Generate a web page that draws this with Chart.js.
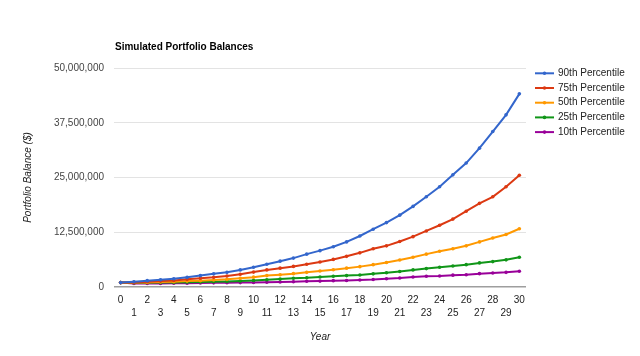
<!DOCTYPE html>
<html>
<head>
<meta charset="utf-8">
<script src="https://cdn.jsdelivr.net/npm/chart.js@4"></script>
<style>
html,body{margin:0;padding:0;background:#fff;}
#wrap{width:640px;height:356px;position:relative;}
</style>
</head>
<body>
<div id="wrap"><canvas id="c" width="640" height="356"></canvas></div>
<script>
const chartTitle = "Simulated Portfolio Balances";
const xTitle = "Year";
const yTitle = "Portfolio Balance ($)";
const years = ["0","1","2","3","4","5","6","7","8","9","10","11","12","13","14","15","16","17","18","19","20","21","22","23","24","25","26","27","28","29","30"];
const seriesNames = ["90th Percentile","75th Percentile","50th Percentile","25th Percentile","10th Percentile"];
const seriesColors = ["#3366cc","#dc3912","#ff9900","#109618","#990099"];
const yTicks = [0, 12500000, 25000000, 37500000, 50000000];
// values in millions of dollars
const p90 = [1.0,1.2,1.45,1.65,1.9,2.2,2.6,3.0,3.35,3.9,4.5,5.2,5.9,6.6,7.5,8.3,9.2,10.3,11.65,13.2,14.7,16.4,18.4,20.6,22.9,25.6,28.3,31.7,35.5,39.3,44.1];
const p75 = [1.0,1.05,1.2,1.35,1.5,1.75,2.0,2.2,2.5,2.9,3.4,3.9,4.3,4.7,5.2,5.7,6.3,7.0,7.8,8.75,9.4,10.4,11.5,12.8,14.1,15.5,17.3,19.1,20.6,22.9,25.5];
const p50 = [1.0,1.0,1.05,1.15,1.2,1.35,1.45,1.6,1.75,2.0,2.25,2.6,2.8,3.05,3.35,3.65,3.95,4.3,4.65,5.1,5.6,6.15,6.8,7.5,8.15,8.75,9.4,10.3,11.2,12.0,13.3];
const p25 = [1.0,0.95,0.97,1.0,1.03,1.1,1.15,1.2,1.25,1.35,1.5,1.65,1.8,2.0,2.1,2.3,2.45,2.6,2.75,3.0,3.25,3.55,3.9,4.2,4.5,4.8,5.1,5.5,5.8,6.2,6.8];
const p10 = [1.0,0.8,0.8,0.82,0.85,0.87,0.9,0.95,0.97,1.0,1.05,1.1,1.15,1.2,1.3,1.35,1.45,1.5,1.6,1.7,1.9,2.05,2.3,2.45,2.5,2.7,2.8,3.05,3.2,3.35,3.6];
const seriesValues = [p90,p75,p50,p25,p10];

const FONT = "Arial, 'Liberation Sans', sans-serif";

const datasets = seriesValues.map((vals,i)=>({
  label: seriesNames[i],
  data: vals.map(v=>v*1e6),
  borderColor: seriesColors[i],
  backgroundColor: seriesColors[i],
  borderWidth: 2,
  pointRadius: 1.8,
  pointBorderWidth: 0,
  pointHoverRadius: 2,
  tension: 0,
  order: i
}));

const extras = {
  id: 'extras',
  afterDraw(chart){
    const ctx = chart.ctx;
    const ca = chart.chartArea;
    ctx.save();
    // title
    ctx.fillStyle = '#000';
    ctx.font = "bold 10px " + FONT;
    ctx.textAlign = 'left';
    ctx.textBaseline = 'middle';
    ctx.fillText(chartTitle, 115, 47);
    // x title
    ctx.fillStyle = '#222';
    ctx.font = "italic 10px " + FONT;
    ctx.textAlign = 'center';
    ctx.fillText(xTitle, (ca.left+ca.right)/2, 337);
    // y title
    ctx.save();
    ctx.translate(28, (ca.top+ca.bottom)/2);
    ctx.rotate(-Math.PI/2);
    ctx.fillText(yTitle, 0, 0);
    ctx.restore();
    // legend
    ctx.font = "10px " + FONT;
    ctx.textAlign = 'left';
    for (let i=0;i<seriesNames.length;i++){
      const y = 73.3 + i*14.7;
      ctx.strokeStyle = seriesColors[i];
      ctx.lineWidth = 2;
      ctx.beginPath(); ctx.moveTo(535,y); ctx.lineTo(554,y); ctx.stroke();
      ctx.fillStyle = seriesColors[i];
      ctx.beginPath(); ctx.arc(544.5,y,1.8,0,Math.PI*2); ctx.fill();
      ctx.fillStyle = '#222';
      ctx.fillText(seriesNames[i], 558, y);
    }
    ctx.restore();
  }
};

new Chart(document.getElementById('c'), {
  type: 'line',
  data: { labels: years, datasets },
  options: {
    responsive: false,
    animation: false,
    layout: { padding: { left: 0, right: 114, top: 68, bottom: 0 } },
    plugins: { legend: { display: false }, title: { display: false }, tooltip: { enabled: false } },
    scales: {
      x: {
        type: 'category',
        offset: true,
        grid: { display: false, drawTicks: false },
        border: { display: false },
        ticks: {
          autoSkip: false, maxRotation: 0, minRotation: 0, padding: 7,
          color: '#222',
          font: { family: FONT, size: 10, lineHeight: 1.25 },
          callback: function(v, idx){ const l = years[idx]; return idx % 2 === 0 ? [l] : ['', l]; }
        },
        afterFit(scale){ scale.height = 356 - 287; }
      },
      y: {
        min: 0, max: 50000000,
        afterBuildTicks(scale){ scale.ticks = yTicks.map(v=>({value:v})); },
        grid: {
          drawTicks: false,
          color: (c)=> c.tick && c.tick.value === 0 ? '#9e9e9e' : '#e3e3e3',
          lineWidth: (c)=> c.tick && c.tick.value === 0 ? 1.5 : 1
        },
        border: { display: false },
        ticks: {
          padding: 10,
          color: '#444',
          font: { family: FONT, size: 10 },
          callback: (v)=> Number(v).toLocaleString('en-US')
        },
        afterFit(scale){ scale.width = 114; }
      }
    }
  },
  plugins: [extras]
});
</script>
</body>
</html>
